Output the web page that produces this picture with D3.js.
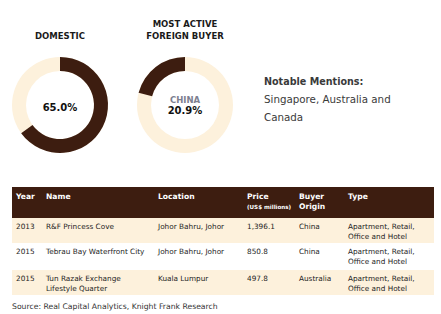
<!DOCTYPE html>
<html>
<head>
<meta charset="utf-8">
<script src="https://cdn.jsdelivr.net/npm/d3@7"></script>
<style>
  body { margin: 0; background: #fff; }
  svg text { font-family: "DejaVu Sans", sans-serif; }
</style>
</head>
<body>
<div id="chart"></div>
<script>
// donut data
const donutTitles = [["DOMESTIC"], ["MOST ACTIVE", "FOREIGN BUYER"]];
const donutValues = [65.0, 20.9];
const donutLabels = [null, "CHINA"];
const notable = ["Notable Mentions:", "Singapore, Australia and", "Canada"];

// table data
const headers = [["Year"], ["Name"], ["Location"], ["Price", "(US$ millions)"], ["Buyer", "Origin"], ["Type"]];
const years = ["2013", "2015", "2015"];
const names = [["R&F Princess Cove"], ["Tebrau Bay Waterfront City"], ["Tun Razak Exchange", "Lifestyle Quarter"]];
const locations = ["Johor Bahru, Johor", "Johor Bahru, Johor", "Kuala Lumpur"];
const prices = ["1,396.1", "850.8", "497.8"];
const origins = ["China", "China", "Australia"];
const types = [["Apartment, Retail,", "Office and Hotel"], ["Apartment, Retail,", "Office and Hotel"], ["Apartment, Retail,", "Office and Hotel"]];
const source = "Source: Real Capital Analytics, Knight Frank Research";

const dark = "#3d1d10", cream = "#fdf1dc", txt = "#1e1e1e";

const svg = d3.select("#chart").append("svg").attr("width", 441).attr("height", 314);

// donuts
const centers = [60, 185];
const arc = d3.arc().innerRadius(34).outerRadius(48);
donutValues.forEach((v, i) => {
  const g = svg.append("g").attr("transform", `translate(${centers[i]},105)`);
  g.append("path").attr("d", arc({startAngle: 0, endAngle: 2 * Math.PI})).attr("fill", cream);
  const a = v / 100 * 2 * Math.PI;
  const seg = i === 0 ? {startAngle: 0, endAngle: a} : {startAngle: -a, endAngle: 0};
  g.append("path").attr("d", arc(seg)).attr("fill", dark);

  const title = donutTitles[i];
  title.forEach((t, j) => {
    svg.append("text").attr("x", centers[i]).attr("y", 39 - (title.length - 1 - j) * 12)
      .attr("text-anchor", "middle").attr("font-size", 8.5).attr("font-weight", "bold")
      .attr("fill", "#1a1a1a").text(t);
  });
  if (donutLabels[i]) {
    g.append("text").attr("y", -2).attr("text-anchor", "middle").attr("font-size", 8.5)
      .attr("font-weight", "bold").attr("fill", "#7d8090").text(donutLabels[i]);
    g.append("text").attr("y", 9).attr("text-anchor", "middle").attr("font-size", 10)
      .attr("font-weight", "bold").attr("fill", "#111").text(v.toFixed(1) + "%");
  } else {
    g.append("text").attr("y", 6).attr("text-anchor", "middle").attr("font-size", 10)
      .attr("font-weight", "bold").attr("fill", "#111").text(v.toFixed(1) + "%");
  }
});

notable.forEach((t, i) => {
  svg.append("text").attr("x", 264).attr("y", 85 + i * 18)
    .attr("font-size", i === 0 ? 9.6 : 10.3).attr("font-weight", i === 0 ? "bold" : "normal")
    .attr("fill", "#3a3a3a").text(t);
});

// table
const colX = [16, 46, 158, 247, 299, 348];
const tableLeft = 12, tableRight = 434;
const rowTops = [187, 218, 243, 270, 295];
const rowFill = [dark, cream, "#fff", cream];
rowFill.forEach((f, i) => {
  svg.append("rect").attr("x", tableLeft).attr("y", rowTops[i])
    .attr("width", tableRight - tableLeft).attr("height", rowTops[i + 1] - rowTops[i]).attr("fill", f);
});

headers.forEach((h, c) => {
  h.forEach((t, j) => {
    const small = c === 3 && j === 1;
    svg.append("text").attr("x", colX[c]).attr("y", 199 + j * 10)
      .attr("font-size", small ? 5.6 : 7.6).attr("font-weight", "bold").attr("fill", "#fff").text(t);
  });
});

const rows = years.map((y, r) => [[y], names[r], [locations[r]], [prices[r]], [origins[r]], types[r]]);
rows.forEach((row, r) => {
  row.forEach((cell, c) => {
    cell.forEach((t, j) => {
      svg.append("text").attr("x", colX[c]).attr("y", rowTops[r + 1] + 10.5 + j * 10)
        .attr("font-size", 7.3).attr("fill", txt).text(t);
    });
  });
});

svg.append("text").attr("x", 12).attr("y", 309).attr("font-size", 7.7)
  .attr("fill", "#333").text(source);
</script>
</body>
</html>
